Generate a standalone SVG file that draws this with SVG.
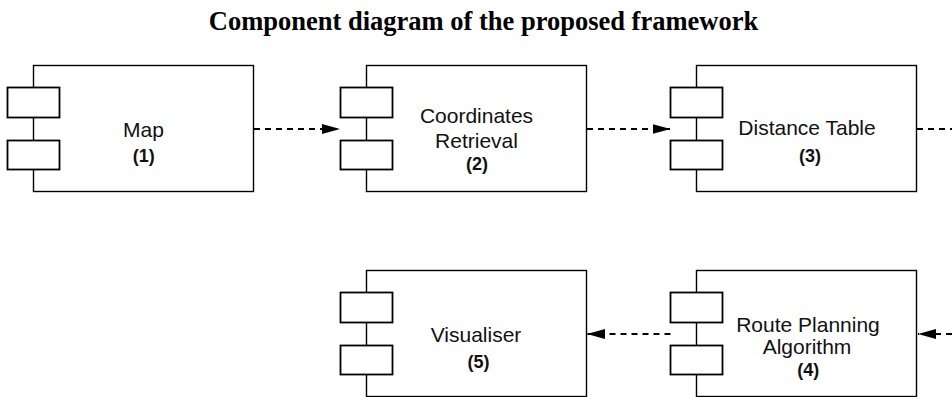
<svg xmlns="http://www.w3.org/2000/svg" width="952" height="397" viewBox="0 0 952 397">
<style>
.box{fill:#fff;stroke:#000;stroke-width:1.4}
.port{fill:#fff;stroke:#000;stroke-width:1.8}
.lbl{font-family:"Liberation Sans",Arial,sans-serif;font-size:21px;fill:#111;text-anchor:middle}
.num{font-family:"Liberation Sans",Arial,sans-serif;font-size:18px;font-weight:bold;fill:#111;text-anchor:middle}
.title{font-family:"Liberation Serif","Times New Roman",serif;font-size:26.5px;font-weight:bold;fill:#000;text-anchor:middle}
.dep{fill:none;stroke:#000;stroke-width:2;stroke-dasharray:6 5}
</style>
<defs>
<marker id="ah" markerUnits="userSpaceOnUse" markerWidth="18" markerHeight="10" refX="18" refY="5" orient="auto">
<path d="M0,0 L18,5 L0,10 z" fill="#000"/>
</marker>
</defs>
<text class="title" x="483.5" y="30">Component diagram of the proposed framework</text>
<g id="connectors">
<path class="dep" d="M254,129 H340" marker-end="url(#ah)"/>
<path class="dep" d="M587,129 H670.5"  marker-end="url(#ah)"/>
<path class="dep" d="M917,129 H952"/>
<path class="dep" d="M952,334 H918" marker-end="url(#ah)"/>
<path class="dep" d="M670.5,334 H587" marker-end="url(#ah)"/>
</g>
<g id="map">
<rect class="box" x="33.5" y="65.5" width="220" height="126"/>
<rect class="port" x="7.5" y="87.5" width="52" height="30"/>
<rect class="port" x="7.5" y="140.5" width="52" height="29"/>
<text class="lbl" x="143.5" y="137">Map</text>
<text class="num" x="143.8" y="162">(1)</text>
</g>
<g id="coordinates-retrieval">
<rect class="box" x="366.5" y="65.5" width="220" height="126"/>
<rect class="port" x="340.5" y="87.5" width="52" height="30"/>
<rect class="port" x="340.5" y="140.5" width="52" height="29"/>
<text class="lbl" x="476.5" y="123.3">Coordinates</text>
<text class="lbl" x="476.5" y="147.7">Retrieval</text>
<text class="num" x="477" y="169.5">(2)</text>
</g>
<g id="distance-table">
<rect class="box" x="696.5" y="65.5" width="220" height="126"/>
<rect class="port" x="670.5" y="87.5" width="52" height="30"/>
<rect class="port" x="670.5" y="140.5" width="52" height="29"/>
<text class="lbl" x="807" y="135">Distance Table</text>
<text class="num" x="810" y="161.5">(3)</text>
</g>
<g id="route-planning-algorithm">
<rect class="box" x="696.5" y="270.5" width="220" height="126"/>
<rect class="port" x="670.5" y="292.5" width="52" height="30"/>
<rect class="port" x="670.5" y="345.5" width="52" height="29"/>
<text class="lbl" x="808" y="331.7">Route Planning</text>
<text class="lbl" x="807" y="354.3">Algorithm</text>
<text class="num" x="808.3" y="376">(4)</text>
</g>
<g id="visualiser">
<rect class="box" x="366.5" y="270.5" width="220" height="126"/>
<rect class="port" x="340.5" y="292.5" width="52" height="30"/>
<rect class="port" x="340.5" y="345.5" width="52" height="29"/>
<text class="lbl" x="476" y="341.7">Visualiser</text>
<text class="num" x="478.5" y="368">(5)</text>
</g>
</svg>
